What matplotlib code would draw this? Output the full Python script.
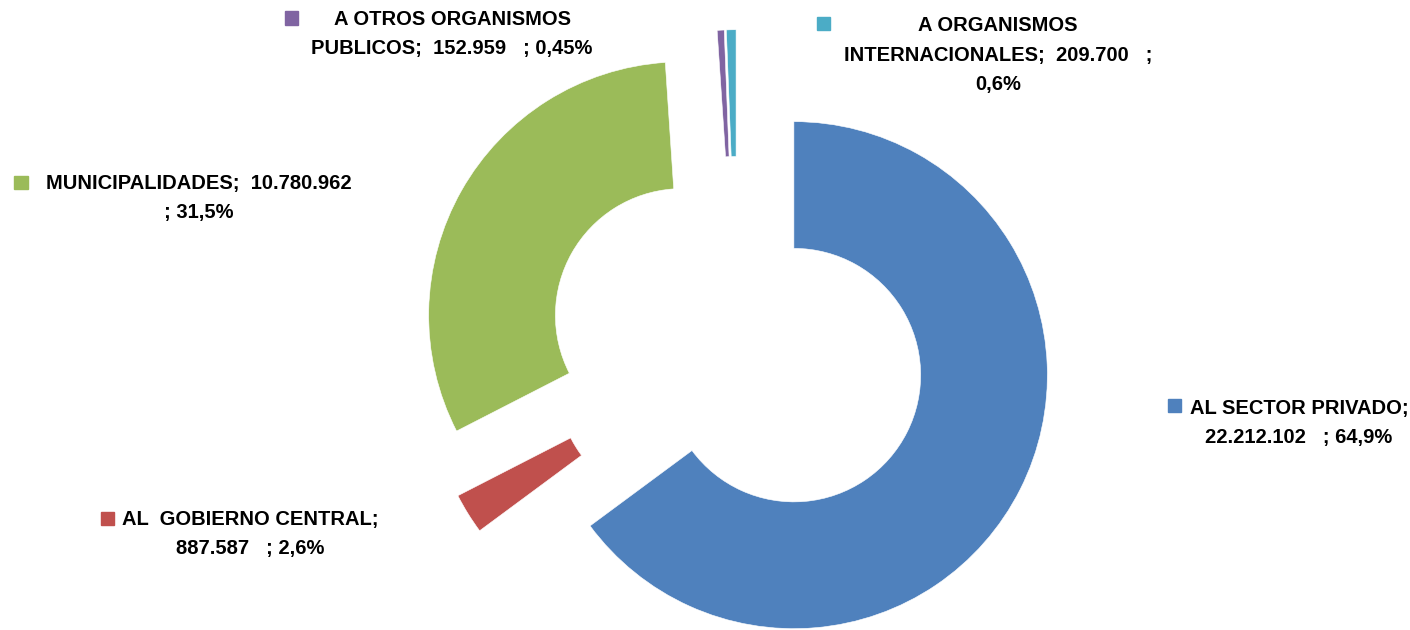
import matplotlib
matplotlib.use("Agg")
import matplotlib.pyplot as plt
from matplotlib.patches import Rectangle

# datos de transferencias
categorias = ["AL SECTOR PRIVADO", "AL  GOBIERNO CENTRAL", "MUNICIPALIDADES",
              "A OTROS ORGANISMOS PUBLICOS", "A ORGANISMOS INTERNACIONALES"]
montos = [22212102, 887587, 10780962, 152959, 209700]
textos = ["AL SECTOR PRIVADO;\n22.212.102   ; 64,9%",
          "AL  GOBIERNO CENTRAL;\n887.587   ; 2,6%",
          "MUNICIPALIDADES;  10.780.962\n; 31,5%",
          "A OTROS ORGANISMOS\nPUBLICOS;  152.959   ; 0,45%",
          "A ORGANISMOS\nINTERNACIONALES;  209.700   ;\n0,6%"]
colores = ["#4F81BD", "#C0504D", "#9BBB59", "#8064A2", "#4BACC6"]

W, H = 1410, 630
fig = plt.figure(figsize=(W / 100, H / 100), dpi=100)
ax = fig.add_axes([0, 0, 1, 1])

# centro del grafico y radio en pixeles
cx, cy, R = 737.3, 346.6, 253.5
ax.pie(montos, colors=colores, startangle=90, counterclock=False,
       explode=[0.25] * len(montos), radius=1,
       wedgeprops=dict(width=0.5, edgecolor="white", linewidth=0.4))
ax.set_xlim(-cx / R, (W - cx) / R)
ax.set_ylim(-(H - cy) / R, cy / R)
ax.set_aspect("auto")
ax.axis("off")

# posicion de etiquetas (centro del texto y cuadro de color), en pixeles
pos_texto = [(1299, 423), (250, 534), (199, 198), (452, 34), (998, 55)]
pos_cuadro = [(1174.5, 405.5), (107.5, 518.5), (21, 182), (291.5, 18), (823.5, 23.5)]

fuente = ["Liberation Sans Narrow", "Liberation Sans", "DejaVu Sans"]
for i in range(len(montos)):
    tx, ty = pos_texto[i]
    fig.text(tx / W, 1 - ty / H, textos[i], ha="center", va="center",
             multialignment="center", fontsize=14.5, fontweight="bold",
             family=fuente, color="black", linespacing=1.7)
    qx, qy = pos_cuadro[i]
    fig.patches.append(Rectangle(((qx - 6.5) / W, 1 - (qy + 6.5) / H), 13 / W, 13 / H,
                                 transform=fig.transFigure, color=colores[i]))

fig.savefig("out.png", dpi=100)
